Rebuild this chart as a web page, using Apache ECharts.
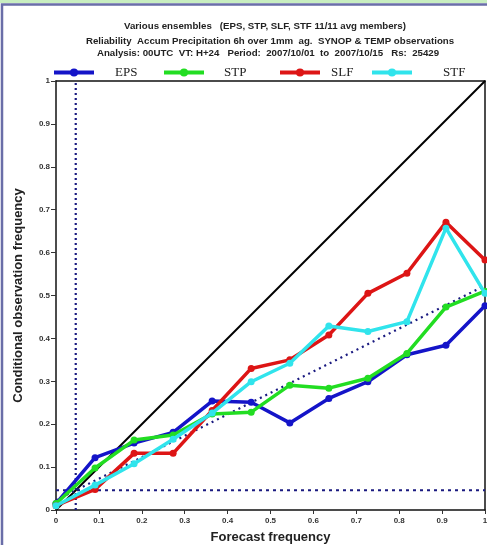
<!DOCTYPE html>
<html><head><meta charset="utf-8">
<script src="https://cdn.jsdelivr.net/npm/echarts@6/dist/echarts.min.js"></script>
<style>html,body{margin:0;padding:0;background:#fff}#c{width:487px;height:545px}</style>
</head><body><div id="c"></div>
<script>
const titleLines = [
  'Various ensembles   (EPS, STP, SLF, STF 11/11 avg members)',
  'Reliability  Accum Precipitation 6h over 1mm  ag.  SYNOP & TEMP observations',
  'Analysis: 00UTC  VT: H+24   Period:  2007/10/01  to  2007/10/15   Rs:  25429'
];
const seriesNames = ['EPS', 'STP', 'SLF', 'STF'];
const seriesColors = ['#1414c8', '#22dd22', '#dd1515', '#30e4ec'];
const probs = [0, 0.091, 0.182, 0.273, 0.364, 0.455, 0.545, 0.636, 0.727, 0.818, 0.909, 1.0];
const eps = [0.015, 0.122, 0.156, 0.181, 0.254, 0.251, 0.203, 0.26, 0.299, 0.362, 0.384, 0.476];
const stp = [0.015, 0.098, 0.163, 0.175, 0.224, 0.228, 0.291, 0.284, 0.307, 0.365, 0.473, 0.51];
const slf = [0.01, 0.048, 0.132, 0.132, 0.232, 0.33, 0.35, 0.408, 0.505, 0.552, 0.671, 0.583];
const stf = [0.01, 0.058, 0.108, 0.165, 0.226, 0.299, 0.342, 0.429, 0.416, 0.439, 0.657, 0.505];
const climate = 0.046;
const diagonal = [[0, 0], [1, 1]];
const noSkill = [[0, climate / 2], [1, (1 + climate) / 2]];
const climV = [[climate, 0], [climate, 1]];
const climH = [[0, climate], [1, climate]];

const allValues = [eps, stp, slf, stf];
const chart = echarts.init(document.getElementById('c'), null, {renderer: 'canvas'});
const pair = arr => probs.map((p, i) => [p, arr[i]]);
const legendLeft = [52, 162, 278, 370];
const legendTextPad = [16, 15, 6, 26];
const titleCenter = [265, 270, 268];
const titleTop = [20.5, 35.5, 47.5];

const refLine = (data, color, type, width) => ({
  type: 'line', data, symbol: 'none', silent: true, z: 1,
  lineStyle: {color, type, width}, legendHoverLink: false
});
const frameAxisX = {type: 'value', min: 0, max: 1, position: 'top', axisLine: {show: true, onZero: false, lineStyle: {color: '#111', width: 1.5}}, axisTick: {show: false}, axisLabel: {show: false}, splitLine: {show: false}};
const frameAxisY = {type: 'value', min: 0, max: 1, position: 'right', axisLine: {show: true, onZero: false, lineStyle: {color: '#111', width: 1.5}}, axisTick: {show: false}, axisLabel: {show: false}, splitLine: {show: false}};

const option = {
  animation: false,
  backgroundColor: '#fff',
  title: titleLines.map((t, i) => ({
    text: t, left: titleCenter[i], top: titleTop[i], padding: 0, textAlign: 'center',
    textStyle: {fontFamily: 'Liberation Sans', fontWeight: 'bold', fontSize: 9.7, lineHeight: 11, color: '#222'}
  })),
  legend: seriesNames.map((n, i) => ({
    data: [n], left: legendLeft[i], top: 66, padding: 0, itemWidth: 40, itemHeight: 10,
    lineStyle: {width: 4},
    textStyle: {fontFamily: 'Liberation Serif', fontSize: 13, color: '#222', padding: [0, 0, 0, legendTextPad[i]]}
  })),
  grid: {left: 56, right: 2, top: 81, bottom: 35, outerBoundsMode: 'none', containLabel: false},
  xAxis: [{
    type: 'value', min: 0, max: 1, interval: 0.1,
    name: 'Forecast frequency', nameLocation: 'middle', nameGap: 21,
    nameTextStyle: {fontFamily: 'Liberation Sans', fontWeight: 'bold', fontSize: 13, color: '#222'},
    axisLine: {show: true, onZero: false, lineStyle: {color: '#111', width: 1.5}},
    axisTick: {show: true, length: 4, lineStyle: {color: '#333'}},
    axisLabel: {fontFamily: 'Liberation Sans', fontWeight: 'bold', fontSize: 8, color: '#333', margin: 7,
      formatter: v => String(+v.toFixed(1))},
    splitLine: {show: false}
  }, frameAxisX],
  yAxis: [{
    type: 'value', min: 0, max: 1, interval: 0.1,
    name: 'Conditional observation frequency', nameLocation: 'middle', nameGap: 31,
    nameTextStyle: {fontFamily: 'Liberation Sans', fontWeight: 'bold', fontSize: 13, color: '#222'},
    axisLine: {show: true, onZero: false, lineStyle: {color: '#111', width: 1.5}},
    axisTick: {show: true, length: 5, lineStyle: {color: '#333'}},
    axisLabel: {fontFamily: 'Liberation Sans', fontWeight: 'bold', fontSize: 8, color: '#333', margin: 6,
      formatter: v => String(+v.toFixed(1))},
    splitLine: {show: false}
  }, frameAxisY],
  graphic: [
    {type: 'rect', shape: {x: 0, y: 0, width: 487, height: 3}, style: {fill: '#c8eec0'}, z: -1},
    {type: 'polyline', shape: {points: [[2, 545], [2, 4.5], [487, 4.5]]}, style: {stroke: '#6a6ea8', lineWidth: 2.5, fill: null}, z: -1}
  ],
  series: [
    refLine(diagonal, '#000', 'solid', 2),
    refLine(noSkill, '#1a1a80', [2, 4], 2.2),
    refLine(climV, '#1a1a80', [2, 3], 2.2),
    refLine(climH, '#1a1a80', [3, 4], 2.2),
    ...seriesNames.map((n, i) => ({
      name: n, type: 'line', data: pair(allValues[i]), z: 3 + i,
      symbol: 'circle', symbolSize: 7, showSymbol: true,
      itemStyle: {color: seriesColors[i]},
      lineStyle: {color: seriesColors[i], width: 3.5}
    }))
  ]
};
chart.setOption(option);
</script></body></html>
